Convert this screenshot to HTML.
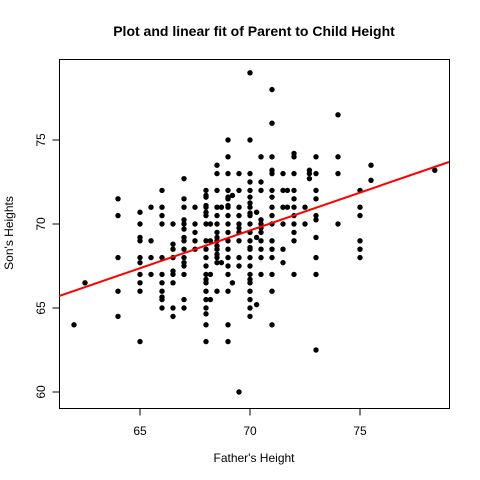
<!DOCTYPE html>
<html><head><meta charset="utf-8"><style>body{margin:0;background:#fff}svg{display:block}text{font-family:"Liberation Sans",Arial,sans-serif}</style></head>
<body>
<svg id="chart" width="480" height="480" viewBox="0 0 480 480">
<text x="254" y="36" text-anchor="middle" font-size="14" font-weight="bold">Plot and linear fit of Parent to Child Height</text>
<text x="254" y="462" text-anchor="middle" font-size="12">Father's Height</text>
<text x="0" y="0" transform="translate(13,233) rotate(-90)" text-anchor="middle" font-size="12">Son's Heights</text>
<rect x="59.5" y="59.5" width="390" height="349" fill="none" stroke="#000" stroke-width="1"/>
<g id="xaxis"></g>
<g id="yaxis"></g>
<g id="pts"></g>
<g id="fit"></g>
</svg>
<script>
const xTicks = [65, 70, 75];
const yTicks = [60, 65, 70, 75];
const fatherCols = [62,62.5,64,65,65.5,66,66.5,67,67.5,68,68.2,68.5,68.7,69,69.2,69.5,70,70.3,70.5,71,71.5,71.7,72,72.5,72.7,73,74,75,75.5,78.4];
const sonCols = [
[64],[66.5],[71.5,70.5,68,66,64.5],
[70.7,70,69.2,69,68,67.7,67,66.5,66,63],
[71,69,68,67],
[72,71,70.5,70,68,67,66.5,66,65.65,65.5,65],
[70,68.8,68.5,68,67.2,67,66.5,65,64.5],
[72.7,71.5,71,70.25,70,69.7,69.2,69,68.5,68,67.7,67.5,67,65.5,65],
[71,70,69.5,69,68.5],
[72,71.7,71.6,71.1,71,70.7,70.5,70,69,68.5,68,67.5,67,66.7,66.5,66,65.5,65,64.65,64,63],
[70,69,67,65.5],
[73.5,73,72,71,70.5,70,69.5,69.2,69,68.7,68.5,68.2,68,67.7,66],
[71,67.7],
[75,74,73,72,71.6,71.5,71.1,71,70.5,70,69.5,69,68.5,68,67.5,67,66,64,63],
[71.7,66.5],
[73,72,71,70.5,70,69.76,69.5,69,68,67.5,60],
[79,75,73,72.5,72,71.6,71.25,71,70.65,70.5,70,69.5,69,68.6,68.5,68,67.5,67,66.7,66.5,66,65.5,65,64.5],
[70.7,69.2,65.2],
[74,72.5,72,70.25,70,69.76,69.5,69,68.5,68,67],
[78,76,74,73.2,73,72,71.6,71,70.5,70,69,68.5,68,67,66,64],
[73,72,71,70,68.5,67.7],
[72,71],
[74.2,74,73,72,71.5,71,70.5,70,69.5,69,67],
[71,70],
[73.2,73,72.7],
[74,73,72,71.5,70.5,70.25,69.2,68,67,62.5],
[76.5,74,73,70],
[72,71,70.5,69,68.5,68],
[73.5,72.6],
[73.2]];
const fitCoef = [38.12, 0.45];
const NS='http://www.w3.org/2000/svg';
const sx = v => 140 + (v-65)*22;
const sy = v => 392 - (v-60)*16.8;
function mk(t,a,p){const e=document.createElementNS(NS,t);for(const k in a)e.setAttribute(k,a[k]);p.appendChild(e);return e;}
const xa=document.getElementById('xaxis'), ya=document.getElementById('yaxis');
mk('line',{x1:sx(65),x2:sx(75),y1:408.5,y2:408.5,stroke:'#000'},xa);
xTicks.forEach(t=>{const l=mk('line',{x1:sx(t),x2:sx(t),y1:408.5,y2:415.5,stroke:'#000'},xa);


const tx=mk('text',{x:sx(t),y:435,'text-anchor':'middle','font-size':12},xa);tx.textContent=t;

});
mk('line',{x1:59.5,x2:59.5,y1:sy(60),y2:sy(75),stroke:'#000'},ya);
yTicks.forEach(t=>{const l=mk('line',{x1:52.5,x2:59.5,y1:sy(t),y2:sy(t),stroke:'#000'},ya);


const tx=mk('text',{x:0,y:0,transform:`translate(45,${sy(t)}) rotate(-90)`,'text-anchor':'middle','font-size':12},ya);tx.textContent=t;

});
const pg=document.getElementById('pts');
fatherCols.forEach((fx,i)=>sonCols[i].forEach(v=>{const c=mk('circle',{cx:sx(fx),cy:sy(v),r:2.7,fill:'#000'},pg);

}));
const x0=(59-140)/22+65, x1=(449-140)/22+65;
const fl=mk('line',{x1:sx(x0),x2:sx(x1),y1:sy(fitCoef[0]+fitCoef[1]*x0),y2:sy(fitCoef[0]+fitCoef[1]*x1),stroke:'#ff0000','stroke-width':2},document.getElementById('fit'));


</script>
</body></html>
